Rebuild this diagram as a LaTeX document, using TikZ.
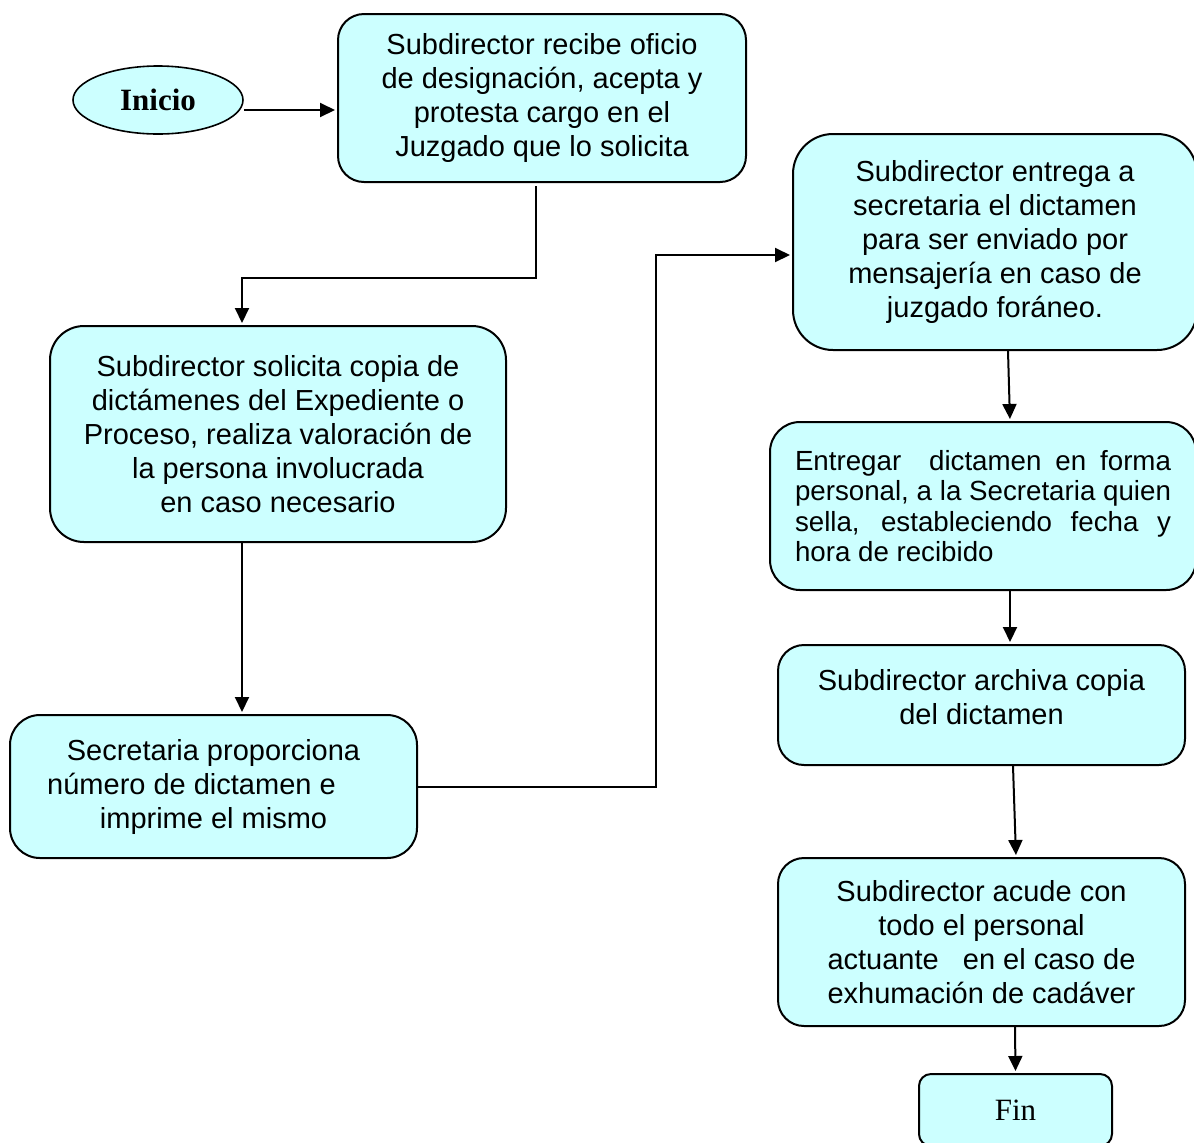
\documentclass[tikz,border=0pt]{standalone}
\usepackage{fontspec}
\setmainfont{Liberation Sans}
\newfontfamily\fuenteromana{Liberation Serif}
\usetikzlibrary{shapes.geometric,arrows.meta}
\definecolor{celeste}{HTML}{CCFFFF}

\begin{document}
\begin{tikzpicture}[x=0.5pt,y=-0.5pt,
                    caja/.style={draw=black, line width=1pt, fill=celeste, rounded corners=13pt,
                                 align=center, inner sep=0pt, font=\fontsize{14.5}{17}\selectfont},
                    flecha/.style={line width=1pt, shorten >=1pt, -{Triangle[length=7.5pt,width=7pt]}}]
                    \useasboundingbox (0,0) rectangle (1194,1142);
                    \node[ellipse, draw, line width=0.8pt, fill=celeste, minimum width=85pt, minimum height=34pt,
                          font=\fuenteromana\bfseries\fontsize{15.5}{18}\selectfont] (inicio) at (158,100) {Inicio};
                    \node[caja, minimum width=204pt, minimum height=84pt] (caja1) at (542,98)
                         {Subdirector recibe oficio\\de designación, acepta y\\protesta cargo en el\\Juzgado que lo solicita};
                    \node[caja, rounded corners=17pt, minimum width=228pt, minimum height=108pt] (caja2) at (278,434)
                         {Subdirector solicita copia de\\dictámenes del Expediente o\\Proceso, realiza valoración de\\la persona involucrada\\en caso necesario};
                    \node[caja, rounded corners=15pt, minimum width=203.5pt, minimum height=71.5pt] (caja3) at (213.5,786.5)
                         {Secretaria proporciona\\número de dictamen e\makebox[22pt]{}\\imprime el mismo};
                    \node[caja, rounded corners=20pt, minimum width=202pt, minimum height=108pt] (caja4) at (995,242)
                         {Subdirector entrega a\\secretaria el dictamen\\para ser enviado por\\mensajería en caso de\\juzgado foráneo.};
                    \node[caja, rounded corners=15pt, minimum width=213pt, minimum height=84pt, text width=188pt, align=justify,
                          font=\fontsize{13.85}{15.3}\selectfont] (caja5) at (983,506)
                         {\hyphenpenalty=10000\relax Entregar\ \ dictamen en forma\linebreak personal, a la Secretaria quien\linebreak sella, estableciendo fecha y\linebreak hora de recibido};
                    \node[caja, minimum width=203.5pt, minimum height=60pt] (caja6) at (981.5,705)
                         {Subdirector archiva copia\\del dictamen\\[-9pt]\mbox{}};
                    \node[caja, minimum width=203.5pt, minimum height=84pt] (caja7) at (981.5,942)
                         {Subdirector acude con\\todo el personal\\actuante\ \ \ en el caso de\\exhumación de cadáver};
                    \node[caja, rounded corners=6pt, minimum width=96.5pt, minimum height=36pt,
                          font=\fuenteromana\fontsize{15.5}{18}\selectfont] (fin) at (1015.5,1110) {Fin};
                    \coordinate (codo1) at (536,278);
                    \coordinate (codo2) at (242,278);
                    \coordinate (codo3) at (656,255);
                    \draw[flecha] ([yshift=-5pt]inicio.east) -- ([yshift=-5pt]inicio.east -| caja1.west);
                    \draw[flecha] ([yshift=-1.5pt]caja1.south -| codo1) -- (codo1) -- (codo2) -- (codo2 |- caja2.north);
                    \draw[flecha] (caja2.south -| codo2) -- (caja3.north -| codo2);
                    \draw[flecha] (caja3.east) -| (codo3) -- (codo3 -| caja4.west);
                    \draw[flecha] ([xshift=6.5pt]caja4.south) -- ([xshift=13.5pt]caja5.north);
                    \draw[flecha] ([xshift=13.5pt]caja5.south) -- ([xshift=14.25pt]caja6.north);
                    \draw[flecha] ([xshift=15.75pt]caja6.south) -- ([xshift=17.25pt]caja7.north);
                    \draw[flecha] ([xshift=16.75pt]caja7.south) -- (fin.north);
                \end{tikzpicture}
\end{document}
